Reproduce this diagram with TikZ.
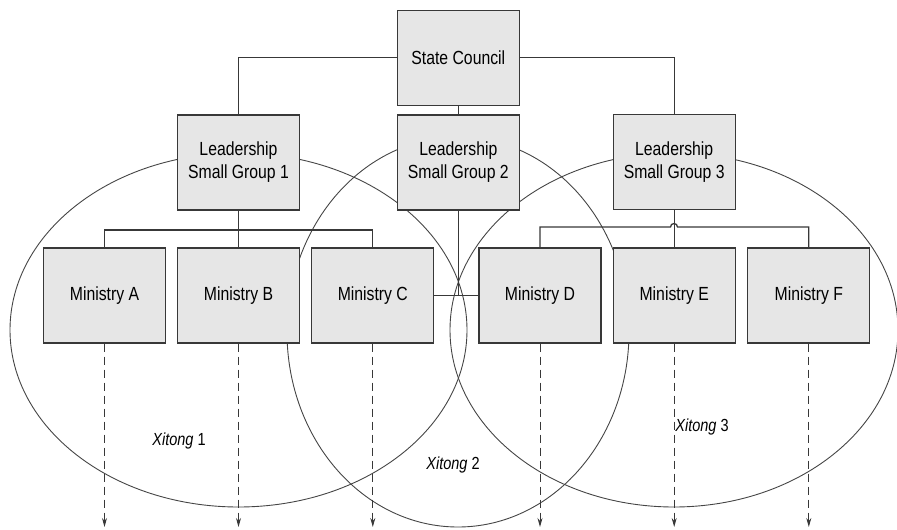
\documentclass[tikz,border=0pt]{standalone}
\usepackage{fontspec}
\setmainfont{Liberation Sans}[FakeStretch=0.83]
\usetikzlibrary{arrows.meta}
\definecolor{boxfill}{HTML}{E6E6E6}
\definecolor{boxline}{HTML}{383838}
\definecolor{ellline}{HTML}{454545}
\begin{document}
\begin{tikzpicture}[x=1pt,y=-1pt,
  box/.style={draw=boxline, fill=boxfill, line width=1.3pt, minimum width=122pt, minimum height=95pt, inner sep=0pt, align=center, font=\fontsize{19}{23}\selectfont},
  conn/.style={draw=boxline, line width=1.3pt},
  xit/.style={draw=ellline, line width=0.9pt},
  darr/.style={draw=boxline, line width=1pt, dash pattern=on 8pt off 5pt, -{Stealth[length=9pt,width=5pt]}},
  lab/.style={font=\fontsize{17.5}{20}\selectfont}]
\useasboundingbox (0,0) rectangle (897,530);
% Xitong ellipses
\draw[xit] (238.5,330) ellipse [x radius=228.5pt, y radius=177pt];
\draw[xit] (458,332) ellipse [x radius=171pt, y radius=195pt];
\draw[xit] (674,330) ellipse [x radius=224pt, y radius=177pt];
% boxes
\node[box] (sc) at (458.3,57.8) {State Council};
\node[box] (g1) at (238.5,162.5) {Leadership\\Small Group 1};
\node[box] (g2) at (458.3,162.5) {Leadership\\Small Group 2};
\node[box] (g3) at (674.2,162) {Leadership\\Small Group 3};
\node[box] (ma) at (104.5,295.5) {Ministry A};
\node[box] (mb) at (238.5,295.5) {Ministry B};
\node[box] (mc) at (372.8,295.5) {Ministry C};
\node[box] (md) at (540,295.5) {Ministry D};
\node[box] (me) at (674.2,295.5) {Ministry E};
\node[box] (mf) at (808.8,295.5) {Ministry F};
% connectors
\draw[conn] (sc.west) -| (g1.north);
\draw[conn] (sc.east) -| (g3.north);
\draw[conn] (sc.south) -- (g2.north);
\coordinate (bar1) at (0,230);
\coordinate (bar3) at (0,227);
\draw[conn] (g1.south) -- (mb.north);
\draw[conn] (ma.north) -- (ma.north |- bar1) -- (mc.north |- bar1) -- (mc.north);
\draw[conn] (g2.south) -- (g2.south |- mc.east);
\draw[conn] (mc.east) -- (md.west);
\draw[conn] (g3.south) -- (me.north);
\coordinate (jl) at (670.5,227);
\draw[conn] (md.north) -- (md.north |- bar3) -- (jl) arc[start angle=180, end angle=0, radius=3.5pt] -- (mf.north |- bar3) -- (mf.north);
% dashed arrows
\coordinate (bot) at (0,527);
\foreach \m in {ma,mb,mc,md,me,mf}{
  \draw[darr] (\m.south) -- (\m.south |- bot);
}
% labels
\node[lab] (x1) at (179,441) {\textit{Xitong} 1};
\node[lab] (x2) at (453,465) {\textit{Xitong} 2};
\node[lab] (x3) at (702,427) {\textit{Xitong} 3};
\end{tikzpicture}
\end{document}
